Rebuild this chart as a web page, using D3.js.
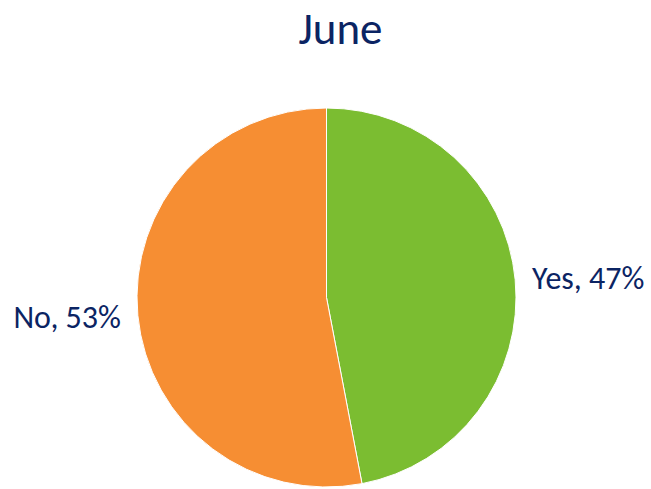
<!DOCTYPE html>
<html lang="en">
  <head>
    <meta charset="UTF-8" />
    <title>June</title>
    <script src="https://d3js.org/d3.v7.min.js"></script>
    <style>
      body {
        margin: 0;
        background: #fff;
      }
      text {
        font-family: Carlito, "Open Sans", "Noto Sans", sans-serif;
        fill: #0b2463;
      }
    </style>
  </head>
  <body>
    <div id="chart"></div>
    <script>
      const categories = ["Yes", "No"];
      const shares = [47, 53];
      const colors = ["#7bbd31", "#f68e33"];

      const width = 651;
      const height = 489;
      const cx = 326.5;
      const cy = 297.5;
      const radius = 189.5;

      const svg = d3
        .select("#chart")
        .append("svg")
        .attr("width", width)
        .attr("height", height);

      svg
        .append("text")
        .attr("x", cx + 14)
        .attr("y", 44)
        .attr("text-anchor", "middle")
        .style("font-size", "45px")
        .text("June");

      const data = categories.map((c, i) => ({ name: c, value: shares[i], color: colors[i] }));

      const pie = d3
        .pie()
        .sort(null)
        .value((d) => d.value);

      const arcs = pie(data);

      const arc = d3.arc().innerRadius(0).outerRadius(radius);

      const g = svg.append("g").attr("transform", `translate(${cx},${cy})`);

      g.selectAll("path")
        .data(arcs)
        .join("path")
        .attr("d", arc)
        .attr("fill", (d) => d.data.color)
        .attr("stroke", "#fff")
        .attr("stroke-width", 1);

      // labels outside the pie, at the middle angle of each slice
      const labelR = radius + 17;
      g.selectAll("text")
        .data(arcs)
        .join("text")
        .attr("x", (d) => labelR * Math.sin((d.startAngle + d.endAngle) / 2))
        .attr("y", (d) => -labelR * Math.cos((d.startAngle + d.endAngle) / 2))
        .attr("dy", "0.35em")
        .attr("text-anchor", (d) => ((d.startAngle + d.endAngle) / 2 < Math.PI ? "start" : "end"))
        .style("font-size", "32px")
        .text((d) => `${d.data.name}, ${d.data.value}%`);
    </script>
  </body>
</html>
